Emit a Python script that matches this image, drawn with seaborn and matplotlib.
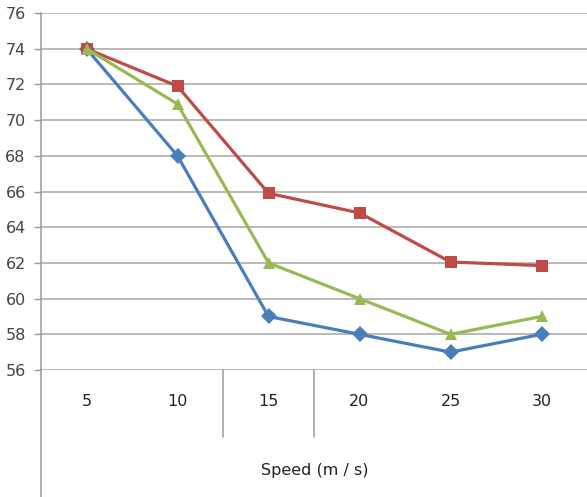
import matplotlib
matplotlib.use("Agg")
import matplotlib.pyplot as plt
import seaborn as sns
import pandas as pd
from matplotlib import font_manager

speeds = ["5", "10", "15", "20", "25", "30"]
series_blue = [74, 68, 59, 58, 57, 58]
series_red = [74, 71.9, 65.9, 64.8, 62.05, 61.85]
series_green = [74, 70.9, 62, 60, 58, 59]
yticks = [56, 58, 60, 62, 64, 66, 68, 70, 72, 74, 76]
x_label = "Speed (m / s)"

sns.set_theme(style="white")
names = {f.name for f in font_manager.fontManager.ttflist}
fam = "Liberation Sans Narrow" if "Liberation Sans Narrow" in names else "DejaVu Sans"
plt.rcParams["font.family"] = [fam, "DejaVu Sans"]

rows = []
for name, vals in [("A", series_blue), ("B", series_red), ("C", series_green)]:
    for i, v in enumerate(vals):
        rows.append({"pos": i, "value": v, "series": name})
df = pd.DataFrame(rows)

fig = plt.figure(figsize=(5.87, 4.97), dpi=100)
ax = fig.add_axes([41/587, 1-370/497, 1-41/587, (370-13)/497])

palette = {"A": "#4a7ebb", "B": "#be4b48", "C": "#98b954"}
markers = {"A": "D", "B": "s", "C": "^"}
sns.lineplot(data=df, x="pos", y="value", hue="series", style="series",
             palette=palette, markers=markers, dashes=False, linewidth=2.3,
             markersize=8, markeredgewidth=0, legend=False, ax=ax)

ax.set_xlim(-0.5, 5.5)
ax.set_ylim(56, 76)
ax.set_yticks(yticks)
ax.set_yticklabels([str(t) for t in yticks])
ax.set_xticks(range(len(speeds)))
ax.set_xticklabels(speeds)
ax.tick_params(axis="x", length=0, pad=17, labelsize=11.5, colors="#222222")
ax.tick_params(axis="y", length=5, width=1, color="#999999", direction="out",
               left=True, pad=6, labelsize=11.5, labelcolor="#444444")
ax.grid(axis="y", color="#a6a6a6", linewidth=1.1)
ax.set_axisbelow(True)
for s in ["top", "right", "bottom"]:
    ax.spines[s].set_visible(False)
ax.spines["left"].set_color("#999999")
ax.spines["left"].set_linewidth(1.1)
ax.set_xlabel("")
ax.set_ylabel("")

tr = ax.get_xaxis_transform()
ax.plot([-0.5, -0.5], [0, -127/357], transform=tr, color="#999999", lw=1.1, clip_on=False)
for xs in [1.5, 2.5]:
    ax.plot([xs, xs], [0, -67/357], transform=tr, color="#999999", lw=1.1, clip_on=False)

fig.text(315/587, 1-470/497, x_label, ha="center", va="center", fontsize=11.5, color="#222222")

fig.savefig("out.png", dpi=100)
